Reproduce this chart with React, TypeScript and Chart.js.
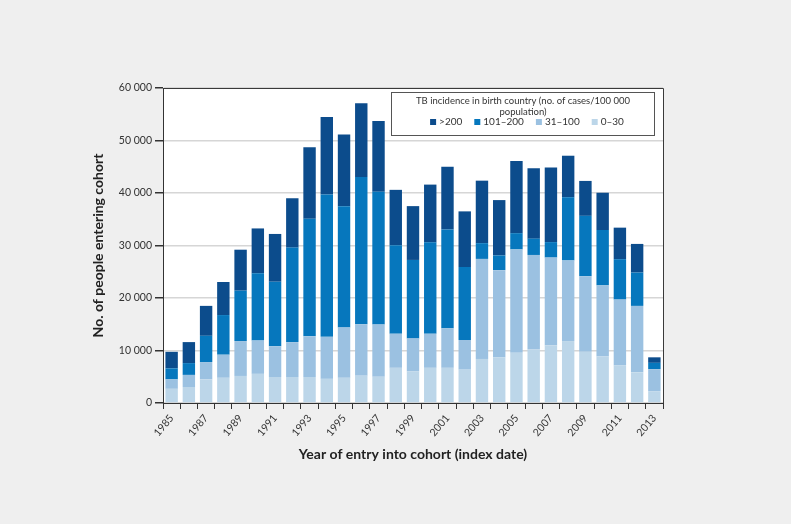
import React, { useEffect, useRef } from 'react';
import { Chart, registerables } from 'chart.js';

Chart.register(...registerables);

const years = ['1985','1986','1987','1988','1989','1990','1991','1992','1993','1994','1995','1996','1997','1998','1999','2000','2001','2002','2003','2004','2005','2006','2007','2008','2009','2010','2011','2012','2013'];

const inc0to30 = [2700,3050,4500,4800,5150,5550,4950,4950,4950,4600,4800,5200,5000,6700,6000,6700,6700,6350,8400,8650,9550,10250,11000,11800,9750,8850,7200,5850,2250];
const inc31to100 = [1800,2300,3300,4400,6650,6350,5850,6650,7750,8000,9600,9800,9950,6500,6300,6500,7550,5650,19050,16650,19700,17950,16700,15350,14400,13550,12500,12650,4200];
const inc101to200 = [2100,2250,5000,7550,9600,12800,12300,18000,22400,27100,23100,28050,25300,16850,14950,17400,18800,13900,3000,2800,3100,3100,2950,12050,11500,10550,7700,6350,1200];
const incOver200 = [3150,4000,5700,6300,7800,8550,9100,9400,13600,14800,13650,14050,13450,10550,10250,11000,11950,10600,11900,10550,13750,13400,14200,7900,6650,7100,6000,5450,1050];

const seriesLabels = ['0–30', '31–100', '101–200', '>200'];
const seriesColors = ['#bcd6e9', '#9bc1e1', '#0677bd', '#0c4c8c'];

const legendTitle = ['TB incidence in birth country (no. of cases/100 000', 'population)'];
const xTitle = 'Year of entry into cohort (index date)';
const yTitle = 'No. of people entering cohort';

const FONT = 'Lato, "Open Sans", sans-serif';

const formatThousands = (v: number) => {
  const s = String(Math.round(v));
  return s.replace(/\B(?=(\d{3})+(?!\d))/g, ' ');
};

const plotPlugin = {
  id: 'plotFrameAndLegend',
  beforeDraw(chart: any) {
    const { ctx, chartArea } = chart;
    ctx.save();
    ctx.fillStyle = '#ffffff';
    ctx.fillRect(chartArea.left, chartArea.top, chartArea.right - chartArea.left, chartArea.bottom - chartArea.top);
    ctx.restore();
  },
  afterDraw(chart: any) {
    const { ctx, chartArea } = chart;
    ctx.save();
    // frame top + right
    ctx.strokeStyle = '#3a3a3a';
    ctx.lineWidth = 1;
    ctx.beginPath();
    ctx.moveTo(chartArea.left, Math.round(chartArea.top) + 0.5);
    ctx.lineTo(Math.round(chartArea.right) + 0.5, Math.round(chartArea.top) + 0.5);
    ctx.lineTo(Math.round(chartArea.right) + 0.5, chartArea.bottom);
    ctx.stroke();

    // legend box
    const right = Math.round(chartArea.right) - 8.5;
    const left = right - 263;
    const top = Math.round(chartArea.top) + 4.5;
    const bottom = top + 43;
    ctx.fillStyle = '#ffffff';
    ctx.fillRect(left, top, right - left, bottom - top);
    ctx.strokeStyle = '#555555';
    ctx.strokeRect(left, top, right - left, bottom - top);

    const cx = (left + right) / 2;
    ctx.fillStyle = '#333333';
    ctx.font = `9.5px ${FONT}`;
    ctx.textAlign = 'center';
    ctx.textBaseline = 'middle';
    ctx.fillText(legendTitle[0], cx, top + 8.5);
    ctx.fillText(legendTitle[1], cx, top + 19);

    // items (reverse order)
    ctx.font = `10px ${FONT}`;
    const order = [3, 2, 1, 0];
    const sq = 6;
    const gapSqText = 3;
    const gapItems = 12;
    const widths = order.map((i) => sq + gapSqText + ctx.measureText(seriesLabels[i]).width);
    const total = widths.reduce((a, b) => a + b, 0) + gapItems * (order.length - 1);
    let x = cx + 4 - total / 2;
    const iy = top + 29.5;
    ctx.textAlign = 'left';
    order.forEach((i, k) => {
      ctx.fillStyle = seriesColors[i];
      ctx.fillRect(x, iy - sq / 2, sq, sq);
      ctx.fillStyle = '#333333';
      ctx.fillText(seriesLabels[i], x + sq + gapSqText, iy);
      x += widths[k] + gapItems;
    });
    ctx.restore();
  },
};

export default function App() {
  const canvasRef = useRef<HTMLCanvasElement | null>(null);

  useEffect(() => {
    document.body.style.margin = '0';
    document.body.style.background = '#efefef';
    const canvas = canvasRef.current;
    if (!canvas) return;
    const seriesData = [inc0to30, inc31to100, inc101to200, incOver200];
    const chart = new Chart(canvas, {
      type: 'bar',
      data: {
        labels: years,
        datasets: seriesData.map((d, i) => ({
          label: seriesLabels[i],
          data: d,
          backgroundColor: seriesColors[i],
          borderWidth: 0,
          barPercentage: 0.72,
          categoryPercentage: 1,
        })),
      },
      options: {
        responsive: false,
        animation: false,
        devicePixelRatio: 1,
        layout: { padding: { left: 86, right: 128, top: 88, bottom: 57 } },
        plugins: {
          legend: { display: false },
          tooltip: { enabled: false },
        },
        scales: {
          x: {
            stacked: true,
            grid: {
              offset: true,
              drawOnChartArea: false,
              drawTicks: true,
              tickLength: 6,
              tickColor: '#333333',
              lineWidth: 1,
            },
            border: { display: true, color: '#333333', width: 1 },
            ticks: {
              autoSkip: false,
              minRotation: 50,
              maxRotation: 50,
              padding: 3,
              color: '#333333',
              font: { family: FONT, size: 10.5 },
              callback: (_v: any, i: number) => (i % 2 === 0 ? years[i] : ''),
            },
            title: {
              display: true,
              text: xTitle,
              color: '#222222',
              font: { family: FONT, size: 14, weight: 'bold' },
              padding: { top: 4, bottom: 4 },
            },
            afterFit: (s: any) => {
              s.height = 64;
            },
          },
          y: {
            stacked: true,
            min: 0,
            max: 60000,
            grid: {
              color: '#d6d6d6',
              lineWidth: 1.5,
              drawTicks: true,
              tickLength: 8,
              tickColor: '#333333',
            },
            border: { display: true, color: '#333333', width: 1 },
            ticks: {
              stepSize: 10000,
              padding: 3,
              color: '#333333',
              font: { family: FONT, size: 10.5 },
              callback: (v: any) => formatThousands(Number(v)),
            },
            title: {
              display: true,
              text: yTitle,
              color: '#222222',
              font: { family: FONT, size: 14, weight: 'bold' },
              padding: { top: 4, bottom: 4 },
            },
            afterFit: (s: any) => {
              s.width = 77;
            },
          },
        },
      },
      plugins: [plotPlugin],
    } as any);
    return () => chart.destroy();
  }, []);

  return (
    <div style={{ width: 791, height: 524, background: '#efefef' }}>
      <canvas ref={canvasRef} width={791} height={524} style={{ display: 'block' }} />
    </div>
  );
}
